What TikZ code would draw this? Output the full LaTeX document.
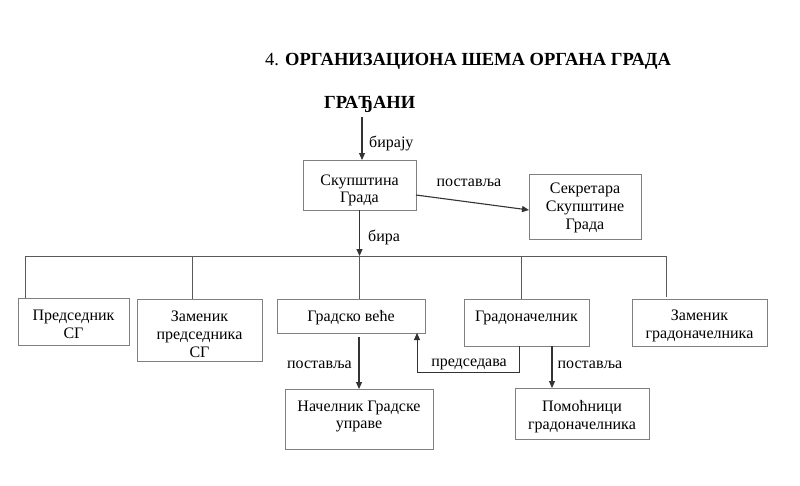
\documentclass[tikz,border=0pt]{standalone}
\usepackage{fontspec}
\setmainfont{Liberation Serif}[BoldFont={Liberation Serif Bold}]
\usetikzlibrary{arrows.meta}
\begin{document}
\begin{tikzpicture}[x=1pt,y=-1pt,
  box/.style={draw=black!50,line width=0.9pt,fill=white},
  txt/.style={font=\fontsize{16}{17.8}\selectfont,align=center,inner sep=0pt},
  conn/.style={draw=black!80,line width=1.1pt},
  thin/.style={draw=black!65,line width=0.9pt},
  arr/.style={conn,-{Triangle[length=7pt,width=6pt]}},
  lbl/.style={font=\fontsize{16}{18}\selectfont,inner sep=0pt}]
\useasboundingbox (0,0) rectangle (800,485);
\fill[white] (0,0) rectangle (800,485);
% title
\node[inner sep=0pt,anchor=base west] (title) at (265,65) {\fontsize{18.5}{20}\selectfont 4. \textbf{ОРГАНИЗАЦИОНА ШЕМА ОРГАНА ГРАДА}};
\node[inner sep=0pt,anchor=base west] (gr) at (324,108) {\fontsize{18.5}{20}\selectfont\textbf{ГРАЂАНИ}};
% boxes
\draw[box] (303,160) rectangle (416,210);
\node[txt] (sg) at (359.5,190.5) {Скупштина\\Града};
\coordinate (sgB) at (359.5,210);
\draw[box] (529,174) rectangle (641,239);
\node[txt] (sek) at (585,208) {Секретара\\Скупштине\\Града};
\draw[box] (18,298) rectangle (129,345);
\node[txt] (pr) at (73.5,324.5) {Председник\\СГ};
\draw[box] (137,299) rectangle (262,361);
\node[txt] (zp) at (199.5,334.5) {Заменик\\председника\\СГ};
\draw[box] (277,299) rectangle (425,333);
\node[txt] (gv) at (351,317.5) {Градско веће};
\draw[box] (464,299) rectangle (589,346);
\node[txt] (gn) at (526.5,317.5) {Градоначелник};
\draw[box] (632,299) rectangle (767,346);
\node[txt] (zg) at (699.5,325.5) {Заменик\\градоначелника};
\draw[box] (285,389) rectangle (433,449);
\node[txt] (ng) at (359,416.5) {Начелник Градске\\управе};
\draw[box] (515,388) rectangle (649,439);
\node[txt] (pom) at (582,416.5) {Помоћници\\градоначелника};
% connectors
\coordinate (a1) at (362,117);
\coordinate (a2) at (362,160);
\draw[arr] (a1) -- (a2);
\node[lbl,anchor=west] (lb1) at (369,143.5) {бирају};
\coordinate (s1) at (416,195);
\coordinate (s2) at (529,210);
\draw[arr] (s1) -- (s2);
\node[lbl] (lb2) at (469,182.5) {поставља};
\coordinate (b1) at (359.5,256);
\draw[arr] (sgB) -- (b1);
\node[lbl,anchor=west] (lb3) at (368,237.5) {бира};
\coordinate (h1) at (25,256);
\coordinate (h2) at (666,256);
\draw[thin] (h1) -- (h2);
\coordinate (v1) at (25,298);
\coordinate (v2a) at (192,256);
\coordinate (v2) at (192,299);
\coordinate (v3) at (359.5,299);
\coordinate (v4a) at (521,256);
\coordinate (v4) at (521,299);
\coordinate (v5) at (666,297);
\draw[thin] (h1) -- (v1) (v2a) -- (v2) (b1) -- (v3) (v4a) -- (v4) (h2) -- (v5);
\coordinate (p1) at (359,337);
\coordinate (p2) at (359,389);
\draw[arr] (p1) -- (p2);
\node[lbl] (lb4) at (319.5,364.5) {поставља};
\coordinate (q1) at (519,346);
\coordinate (q2) at (519,372);
\coordinate (q3) at (417,372);
\coordinate (q4) at (417,333);
\draw[arr,line width=0.9pt] (q1) -- (q2) -- (q3) -- (q4);
\node[lbl] (lb5) at (469,364.5) {председава};
\coordinate (r1) at (552,346);
\coordinate (r2) at (552,388);
\draw[arr] (r1) -- (r2);
\node[lbl] (lb6) at (590,364.5) {поставља};
\end{tikzpicture}
\end{document}
